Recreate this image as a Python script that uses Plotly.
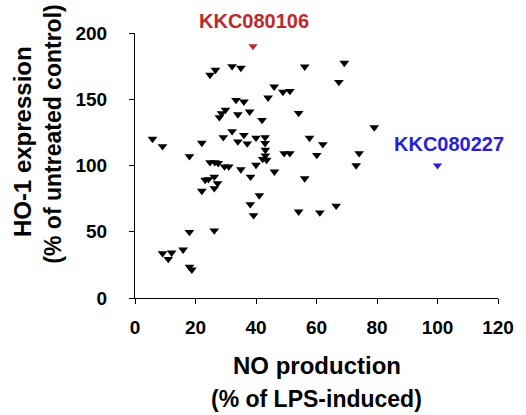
import plotly.graph_objects as go

# Black points: NO production (% of LPS-induced) vs HO-1 expression (% of untreated control)
no_production = [5.8, 9.1, 22.1, 18.0, 24.8, 26.6, 32.1, 35.0, 56.1, 69.2,
                 67.4, 46.0, 48.9, 51.2, 44.0, 33.4, 36.0, 29.9, 28.6, 27.9,
                 34.0, 37.9, 42.0, 54.1, 79.1, 32.1, 29.2, 36.0, 34.0, 37.1,
                 40.0, 43.0, 43.0, 57.7, 62.1, 43.1, 43.1, 42.2, 43.5, 49.3,
                 51.2, 60.1, 74.1, 73.1, 40.0, 46.1, 56.1, 41.1, 38.1, 39.2,
                 54.1, 61.1, 66.5, 24.8, 26.4, 27.5, 29.6, 31.0, 35.0, 38.2,
                 26.2, 23.2, 24.3, 27.3, 26.2, 22.1, 18.0, 26.2, 9.1, 12.1,
                 11.0, 15.9, 18.0, 18.8]
ho1_expression = [120.0, 114.5, 117.0, 106.9, 168.3, 172.1, 174.9, 173.6, 174.6, 177.4,
                  163.0, 159.5, 155.5, 156.2, 151.2, 149.4, 148.2, 141.9, 139.4, 136.4,
                  138.5, 140.6, 134.3, 139.6, 128.7, 125.8, 121.3, 123.0, 118.1, 116.6,
                  120.9, 121.3, 116.8, 120.8, 116.0, 111.7, 107.4, 104.9, 104.2, 109.2,
                  109.2, 107.9, 109.2, 100.0, 100.4, 95.3, 90.2, 77.4, 70.7, 62.4,
                  65.1, 64.5, 69.6, 102.4, 102.4, 101.7, 99.2, 99.2, 97.0, 91.5,
                  91.5, 89.1, 89.6, 86.6, 82.8, 80.8, 49.8, 50.9, 33.7, 34.2,
                  29.4, 36.5, 23.4, 21.4]

# Highlighted compounds
highlight_names = ["KKC080106", "KKC080227"]
highlight_x = [39.0, 100.0]
highlight_y = [190.0, 100.0]
highlight_colors = ["#C0282C", "#2A1ED8"]

x_ticks = [0, 20, 40, 60, 80, 100, 120]
y_ticks = [0, 50, 100, 150, 200]

FONT = "Liberation Sans, Arial, sans-serif"

fig = go.Figure()
fig.add_trace(go.Scatter(
    x=no_production, y=ho1_expression, mode="markers",
    marker=dict(symbol="triangle-down", size=8.5, color="black"),
    showlegend=False, cliponaxis=False,
))
fig.add_trace(go.Scatter(
    x=highlight_x, y=highlight_y, mode="markers",
    marker=dict(symbol="triangle-down", size=8, color=highlight_colors),
    showlegend=False, cliponaxis=False,
))

annotations = [
    dict(x=highlight_x[0], y=highlight_y[0], xref="x", yref="y", text=highlight_names[0],
         showarrow=False, xshift=1, yshift=25,
         font=dict(family=FONT, size=20, color=highlight_colors[0], weight="bold")),
    dict(x=highlight_x[1], y=highlight_y[1], xref="x", yref="y", text=highlight_names[1],
         showarrow=False, xshift=11, yshift=22,
         font=dict(family=FONT, size=20, color=highlight_colors[1], weight="bold")),
    # x-axis title, two lines
    dict(x=0.5, y=-0.255, xref="paper", yref="paper", text="NO production",
         showarrow=False, xanchor="center", yanchor="middle",
         font=dict(family=FONT, size=24, color="black", weight="bold")),
    dict(x=0.5, y=-0.38, xref="paper", yref="paper", text="(% of LPS-induced)",
         showarrow=False, xanchor="center", yanchor="middle",
         font=dict(family=FONT, size=23, color="black", weight="bold")),
    # y-axis title, two lines
    dict(x=-0.31, y=0.59, xref="paper", yref="paper", text="HO-1 expression",
         showarrow=False, xanchor="center", yanchor="middle", textangle=-90,
         font=dict(family=FONT, size=24, color="black", weight="bold")),
    dict(x=-0.226, y=0.62, xref="paper", yref="paper", text="(% of untreated control)",
         showarrow=False, xanchor="center", yanchor="middle", textangle=-90,
         font=dict(family=FONT, size=23, color="black", weight="bold")),
]

fig.update_layout(
    width=526, height=415,
    margin=dict(l=135, r=22, t=33, b=117),
    paper_bgcolor="white", plot_bgcolor="white",
    annotations=annotations,
    xaxis=dict(range=[0, 120], tickvals=x_ticks, showgrid=False, zeroline=False,
               showline=True, linecolor="black", linewidth=1,
               ticks="outside", ticklen=5, tickcolor="black",
               ticklabelstandoff=7,
               tickfont=dict(family=FONT, size=19, color="black", weight="bold")),
    yaxis=dict(range=[0, 200], tickvals=y_ticks, showgrid=False, zeroline=False,
               showline=True, linecolor="black", linewidth=1,
               ticks="outside", ticklen=5, tickcolor="black",
               ticklabelstandoff=18,
               tickfont=dict(family=FONT, size=19, color="black", weight="bold")),
)

fig.write_html("out.html",
               config={"displayModeBar": False},
               post_script="document.body.style.margin='0';document.body.style.padding='0';")
